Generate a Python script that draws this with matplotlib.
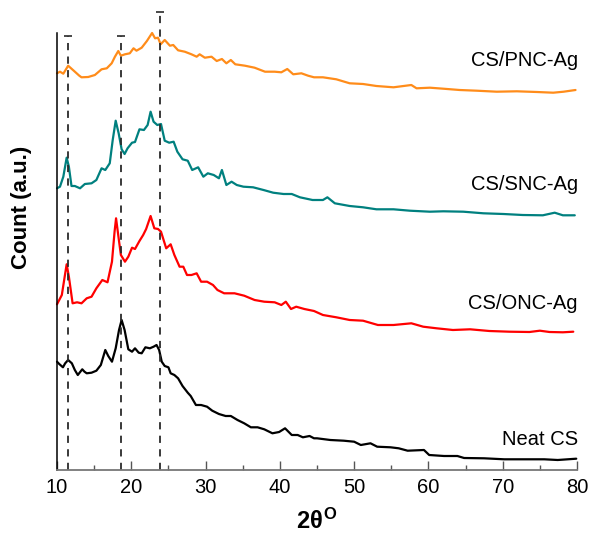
import numpy as np
import matplotlib
matplotlib.use('Agg')
import matplotlib.pyplot as plt

plt.rcParams['font.family'] = ['Liberation Sans', 'DejaVu Sans']
plt.rcParams['mathtext.fontset'] = 'custom'
plt.rcParams['mathtext.rm'] = 'Liberation Sans:bold'
plt.rcParams['mathtext.it'] = 'Liberation Sans:bold'
plt.rcParams['mathtext.bf'] = 'Liberation Sans:bold'

# XRD patterns (2theta, stacked intensity in a.u.)
pnc_x = [10.0, 10.4, 10.85, 11.5, 12.3, 13.0, 13.3, 14.2, 15.1, 16.0, 16.7, 17.36, 17.8, 18.25,
         18.6, 19.15, 19.8, 20.3, 20.7, 21.4, 22.1, 22.8, 23.2, 23.6, 23.95, 24.5, 25.2, 25.65,
         26.3, 27.2, 28.1, 28.8, 29.2, 29.9, 30.8, 31.5, 32.2, 32.8, 33.4, 34.0, 35.3, 36.6,
         38.0, 39.3, 40.2, 41.0, 41.8, 42.9, 43.8, 44.6, 45.8, 47.6, 49.4, 51.2, 53.0, 55.3,
         57.7, 58.4, 60.2, 62.0, 64.2, 66.5, 69.2, 71.9, 74.6, 76.8, 78.2, 79.8]
pnc_y = [396.7, 398.3, 396.3, 404.3, 399.0, 394.3, 392.7, 393.0, 395.0, 400.7, 401.7, 406.7,
         413.3, 419.0, 414.3, 415.7, 416.7, 421.7, 419.3, 422.3, 429.0, 437.0, 431.7, 432.3,
         425.7, 430.0, 424.3, 425.0, 419.7, 418.3, 415.7, 413.3, 415.7, 412.3, 413.3, 409.0,
         411.0, 406.7, 410.0, 405.7, 404.3, 402.3, 398.3, 398.3, 397.7, 401.0, 395.7, 396.7,
         394.3, 392.7, 392.7, 390.7, 386.7, 386.0, 384.0, 382.7, 385.0, 381.7, 382.3, 381.3,
         380.0, 379.3, 378.3, 378.7, 378.0, 377.3, 378.3, 380.0]

snc_x = [10.0, 10.4, 10.85, 11.3, 11.6, 11.95, 12.4, 13.1, 13.75, 14.65, 15.3, 16.0, 16.5,
         17.1, 17.5, 17.9, 18.3, 18.7, 19.1, 19.5, 20.1, 20.5, 21.1, 21.7, 22.2, 22.6, 23.0,
         23.5, 24.0, 24.5, 25.1, 25.7, 26.2, 26.9, 27.6, 28.2, 29.0, 29.7, 30.3, 31.1, 31.8,
         32.2, 32.8, 33.5, 34.2, 35.1, 36.4, 37.8, 39.1, 40.5, 41.6, 42.7, 44.4, 45.8, 46.4,
         47.4, 49.4, 51.2, 53.0, 55.3, 57.5, 60.2, 62.0, 64.7, 67.4, 70.1, 72.7, 75.4, 77.0,
         78.1, 79.7]
snc_y = [281.7, 283.3, 293.3, 312.3, 303.3, 284.0, 284.0, 281.7, 286.0, 286.7, 290.0, 301.7,
         300.0, 306.7, 330.0, 349.3, 336.7, 320.7, 316.0, 321.7, 327.3, 328.0, 340.7, 340.0,
         345.0, 358.3, 348.3, 345.0, 346.0, 329.3, 327.3, 328.3, 318.3, 310.7, 309.3, 300.0,
         302.7, 293.3, 296.7, 295.0, 291.7, 300.0, 285.0, 288.3, 285.0, 283.3, 282.7, 280.0,
         277.3, 276.0, 276.0, 272.7, 270.0, 270.0, 272.7, 266.7, 264.0, 262.7, 260.7, 260.7,
         259.3, 258.3, 258.7, 258.3, 256.7, 256.0, 255.0, 254.7, 257.3, 254.7, 254.7]

onc_x = [10.0, 10.65, 11.0, 11.3, 11.6, 12.1, 12.7, 13.3, 14.0, 14.65, 15.3, 16.1, 16.8, 17.4,
         17.75, 17.95, 18.3, 18.6, 19.15, 19.6, 20.1, 20.5, 21.1, 21.6, 22.0, 22.6, 23.1, 23.6,
         24.0, 24.7, 25.3, 25.8, 26.5, 27.0, 27.5, 28.1, 28.8, 29.4, 30.2, 31.0, 31.6, 32.5,
         33.9, 35.2, 36.6, 37.9, 39.3, 40.2, 40.8, 41.5, 42.2, 43.3, 44.6, 45.8, 47.6, 49.4,
         51.2, 53.2, 55.3, 57.7, 59.3, 61.1, 63.3, 65.6, 68.2, 70.9, 73.6, 75.0, 76.3, 78.1, 79.5]
onc_y = [165.7, 175.0, 191.7, 205.7, 193.3, 166.7, 167.7, 166.7, 171.7, 173.3, 181.7, 190.0,
         187.7, 208.3, 238.3, 251.7, 231.7, 215.0, 208.3, 213.3, 222.3, 221.0, 229.0, 235.0,
         241.0, 254.0, 241.7, 241.0, 238.3, 221.7, 225.7, 215.0, 203.3, 203.3, 195.0, 195.0,
         196.7, 188.3, 188.3, 185.0, 180.0, 176.7, 176.7, 174.3, 170.0, 168.3, 167.7, 165.0,
         168.3, 161.0, 163.3, 161.0, 159.0, 155.0, 152.7, 150.0, 149.3, 145.0, 145.0, 146.7,
         143.3, 141.7, 140.0, 140.7, 139.0, 138.3, 138.0, 139.3, 138.0, 137.7, 138.3]

cs_x = [10.0, 10.3, 10.8, 11.1, 11.5, 12.0, 12.4, 12.8, 13.4, 13.7, 14.0, 14.65, 15.3, 15.9,
        16.5, 16.9, 17.4, 17.9, 18.35, 18.7, 19.1, 19.6, 20.1, 20.5, 21.0, 21.4, 21.9, 22.5,
        23.0, 23.4, 23.75, 24.1, 24.5, 25.0, 25.3, 25.8, 26.3, 26.9, 27.6, 28.0, 28.7, 29.4,
        30.2, 30.9, 31.8, 32.7, 33.4, 34.3, 35.2, 36.1, 37.0, 37.9, 39.0, 39.9, 40.7, 41.6,
        42.4, 43.1, 44.0, 44.6, 45.0, 46.8, 48.6, 50.0, 50.9, 52.2, 53.1, 54.9, 56.0, 57.2,
        59.4, 60.1, 62.1, 63.9, 64.8, 67.5, 70.2, 72.9, 75.6, 77.4, 79.9]
cs_y = [108.3, 106.0, 102.7, 106.7, 110.0, 106.7, 100.0, 95.0, 100.7, 98.3, 96.7, 97.3, 99.3,
        105.0, 120.0, 114.0, 108.3, 121.7, 140.0, 150.0, 140.0, 120.7, 118.3, 121.7, 117.3,
        116.7, 122.7, 121.7, 123.3, 125.0, 120.0, 108.3, 104.0, 102.7, 96.7, 95.0, 91.7, 84.0,
        77.3, 74.0, 65.0, 65.0, 63.3, 59.3, 56.0, 54.0, 54.0, 50.0, 46.7, 42.7, 42.7, 40.7,
        36.7, 38.0, 41.7, 35.0, 35.0, 32.7, 34.0, 31.7, 31.7, 30.0, 29.3, 28.3, 25.0, 26.7,
        23.3, 22.7, 21.7, 19.3, 20.0, 15.0, 14.0, 14.0, 12.0, 11.7, 10.7, 10.7, 10.7, 10.0, 11.3]

sample_names = ['CS/PNC-Ag', 'CS/SNC-Ag', 'CS/ONC-Ag', 'Neat CS']
peak_positions = [11.5, 18.6, 23.8]

fig = plt.figure(figsize=(5.9, 5.43), dpi=100)
ax = fig.add_axes([57 / 590, 73 / 543, 520 / 590, 437 / 543])

line_kw = dict(lw=1.6, clip_on=False, solid_joinstyle='round', solid_capstyle='round')
ax.plot(pnc_x, pnc_y, color='#FF8C1A', **line_kw)
ax.plot(snc_x, snc_y, color='#00807F', **line_kw)
ax.plot(onc_x, onc_y, color='#FF0000', **line_kw)
ax.plot(cs_x, cs_y, color='black', **line_kw)

# dashed reference lines with small caps on top
for xp, top in zip(peak_positions, [434, 434, 458]):
    ax.plot([xp, xp], [0, top], color='#2a2a2a', lw=1.3, ls=(0, (4, 3.5)), clip_on=False)
    ax.plot([xp], [top], marker='_', ms=6, mew=1.2, color='#2a2a2a', clip_on=False)

# sample labels
for name, yl in zip(sample_names, [404, 280, 161, 25]):
    ax.text(80.1, yl, name, ha='right', va='baseline', fontsize=14.5)

ax.set_xlim(10, 80)
ax.set_ylim(0, 437)
ax.set_xticks(np.arange(10, 81, 10))
ax.set_xticks(np.arange(15, 80, 10), minor=True)
ax.set_yticks([])
ax.tick_params(axis='x', which='major', direction='in', length=6.5, width=1, colors='#555555',
               labelcolor='black', labelsize=14.5, pad=6)
ax.tick_params(axis='x', which='minor', direction='in', length=3.5, width=1, colors='#555555')
for s in ['top', 'right']:
    ax.spines[s].set_visible(False)
ax.spines['bottom'].set_color('#777777')
ax.spines['bottom'].set_linewidth(1.3)
ax.spines['left'].set_linewidth(1.1)

ax.set_xlabel(r'$2\theta^{O}$', fontsize=17, labelpad=8)
ax.set_ylabel('Count (a.u.)', fontsize=16, fontweight='bold')
ax.yaxis.set_label_coords(-0.048, 0.6)

plt.savefig('out.png', dpi=100)
